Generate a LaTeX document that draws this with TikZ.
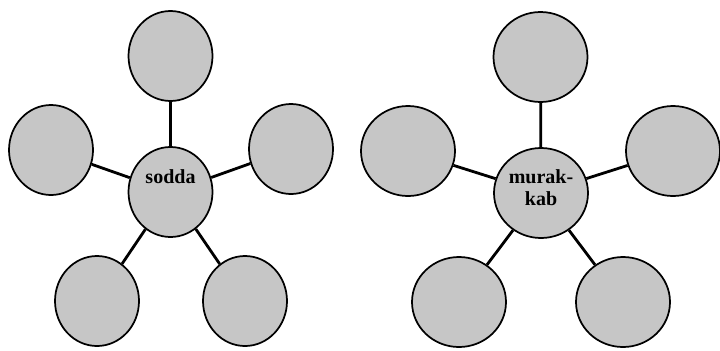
\documentclass[tikz,border=0pt]{standalone}
\usepackage{fontspec}
\setmainfont{Liberation Serif}
\usetikzlibrary{shapes.geometric}
\definecolor{dotgray}{RGB}{198,198,198}

\begin{document}
\begin{tikzpicture}[x=0.75pt,y=0.75pt,yscale=-1,xscale=1,
	bubble/.style={draw, ellipse, fill=dotgray, line width=1.3pt, inner sep=0pt, minimum width=63pt, minimum height=67.5pt},
	widebubble/.style={bubble, minimum width=70.5pt},
	spoke/.style={line width=2.1pt},
	hubtext/.style={font=\bfseries\fontsize{15}{16.5}\selectfont, align=center, inner sep=0pt}]
	\useasboundingbox (0,0) rectangle (720,350);

	% sodda
	\node [bubble] (sodda) at (170.5,192) {};
	\node [bubble] (soddaT) at (170.5,56) {};
	\node [bubble] (soddaL) at (51,150) {};
	\node [bubble] (soddaR) at (291,149) {};
	\node [bubble] (soddaBL) at (97,301) {};
	\node [bubble] (soddaBR) at (245,301) {};
	\node [hubtext] (soddatxt) at (170.5,177) {sodda};
	% spokes
	\draw [spoke] (sodda) -- (soddaT);
	\draw [spoke] (sodda) -- (soddaL);
	\draw [spoke] (sodda) -- (soddaR);
	\draw [spoke] (sodda) -- (soddaBL);
	\draw [spoke] (sodda) -- (soddaBR);

	% murakkab
	\node [widebubble] (murak) at (541,193) {};
	\node [widebubble] (murakT) at (540.5,57) {};
	\node [widebubble] (murakL) at (408,151) {};
	\node [widebubble] (murakR) at (673,151) {};
	\node [widebubble] (murakBL) at (459,302) {};
	\node [widebubble] (murakBR) at (623,302) {};
	\node [hubtext] (muraktxt) at (541,188) {murak-\\kab};
	% spokes
	\draw [spoke] (murak) -- (murakT);
	\draw [spoke] (murak) -- (murakL);
	\draw [spoke] (murak) -- (murakR);
	\draw [spoke] (murak) -- (murakBL);
	\draw [spoke] (murak) -- (murakBR);

\end{tikzpicture}
\end{document}
